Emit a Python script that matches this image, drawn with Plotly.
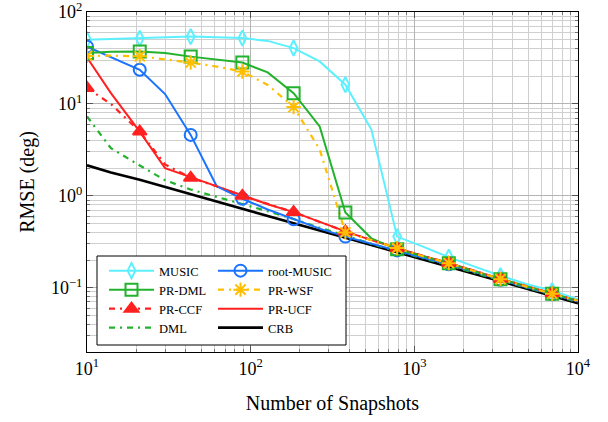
import plotly.graph_objects as go

snapshots = [10, 14, 21, 30, 43, 62, 89, 127, 183, 264, 379, 546, 785, 1129, 1624, 2336, 3360, 4833, 6952, 10000]

music = [50, 51, 51.5, 52.7, 54, 53, 52, 48.5, 40.5, 29, 16.2, 5.3, 0.36, 0.28, 0.215, 0.17, 0.135, 0.11, 0.093, 0.075]
root_music = [42, 32.5, 23.5, 12.8, 4.6, 1.27, 0.93, 0.71, 0.555, 0.44, 0.36, 0.30, 0.255, 0.212, 0.18, 0.148, 0.122, 0.101, 0.085, 0.071]
pr_dml = [35.7, 37, 37.1, 35.7, 32.7, 30.5, 28.2, 22, 13.1, 5.7, 0.66, 0.345, 0.262, 0.22, 0.185, 0.15, 0.124, 0.103, 0.086, 0.072]
pr_wsf = [33.3, 33.5, 33, 30.7, 28.2, 25.5, 22.5, 16.1, 9.25, 3.2, 0.40, 0.33, 0.27, 0.22, 0.185, 0.15, 0.124, 0.103, 0.086, 0.072]
pr_ccf = [14.9, 10, 5.0, 2.2, 1.57, 1.27, 1.0, 0.81, 0.665, 0.52, 0.41, 0.33, 0.27, 0.222, 0.186, 0.151, 0.125, 0.104, 0.087, 0.072]
pr_ucf = [32, 13.1, 5.0, 2.0, 1.6, 1.27, 1.0, 0.81, 0.665, 0.52, 0.41, 0.33, 0.27, 0.222, 0.186, 0.151, 0.125, 0.104, 0.087, 0.072]
dml = [7.3, 3.3, 2.14, 1.48, 1.17, 0.98, 0.81, 0.68, 0.56, 0.45, 0.37, 0.30, 0.25, 0.21, 0.175, 0.145, 0.12, 0.10, 0.084, 0.07]
crb = [2.15, 1.793, 1.496, 1.247, 1.040, 0.868, 0.724, 0.604, 0.503, 0.420, 0.350, 0.292, 0.244, 0.203, 0.169, 0.141, 0.118, 0.098, 0.082, 0.068]

x_tickvals = [10, 100, 1000, 10000]
x_ticktext = ["10<sup>1</sup>", "10<sup>2</sup>", "10<sup>3</sup>", "10<sup>4</sup>"]
y_tickvals = [0.1, 1, 10, 100]
y_ticktext = ["10<sup>\u22121</sup>", "10<sup>0</sup>", "10<sup>1</sup>", "10<sup>2</sup>"]

C_MUSIC = "#5cf0ff"
C_ROOT = "#1a73ff"
C_GREEN = "#22b22c"
C_YEL = "#ffbf00"
C_RED = "#ff2020"
C_BLK = "#000000"

FONT = "Liberation Serif"
DASHDOT = "6px,5px,2px,5px"

# name, data, color, dash, width, symbol, msize, legend row, legend column
series = [
    ("MUSIC", music, C_MUSIC, "solid", 2, "diamond-tall-open", 11, 0, 0),
    ("root-MUSIC", root_music, C_ROOT, "solid", 2, "circle-open", 12, 0, 1),
    ("PR-DML", pr_dml, C_GREEN, "solid", 2, "square-open", 12, 1, 0),
    ("PR-WSF", pr_wsf, C_YEL, DASHDOT, 2.2, "asterisk-open", 12, 1, 1),
    ("PR-CCF", pr_ccf, C_RED, DASHDOT, 2.2, "triangle-up", 12, 2, 0),
    ("PR-UCF", pr_ucf, C_RED, "solid", 2, None, 0, 2, 1),
    ("DML", dml, C_GREEN, DASHDOT, 2.2, None, 0, 3, 0),
    ("CRB", crb, C_BLK, "solid", 2.6, None, 0, 3, 1),
]

W, H = 608, 422
L, R, T, B = 87, 30, 12, 70
pw, ph = W - L - R, H - T - B

def px2paper_x(px):
    return (px - L) / pw

def px2paper_y(py):
    return 1 - (py - T) / ph

fig = go.Figure()

line_order = ["CRB", "DML", "PR-UCF", "MUSIC", "root-MUSIC", "PR-DML", "PR-CCF", "PR-WSF"]
lookup = {s[0]: s for s in series}
for nm in line_order:
    name, data, col, dash, w, sym, ms, row, colm = lookup[nm]
    fig.add_trace(go.Scatter(x=snapshots, y=data, mode="lines",
                             line=dict(color=col, width=w, dash=dash),
                             showlegend=False, hoverinfo="skip"))
for nm in ["MUSIC", "root-MUSIC", "PR-DML", "PR-CCF", "PR-WSF"]:
    name, data, col, dash, w, sym, ms, row, colm = lookup[nm]
    mk = dict(symbol=sym, size=ms, color=col, line=dict(color=col, width=2))
    fig.add_trace(go.Scatter(x=snapshots[::2], y=data[::2], mode="markers", marker=mk,
                             showlegend=False, hoverinfo="skip"))

row_y = [271, 290, 309, 328]
col_x = [104, 213]
legends = {}
for i, (name, data, col, dash, w, sym, ms, row, colm) in enumerate(series):
    lg = "legend" if i == 0 else "legend%d" % (i + 1)
    mode = "lines+markers" if sym else "lines"
    kw = {}
    if sym:
        kw["marker"] = dict(symbol=sym, size=ms, color=col, line=dict(color=col, width=2))
    fig.add_trace(go.Scatter(x=[None], y=[None], mode=mode, name=name,
                             line=dict(color=col, width=w, dash=dash),
                             legend=lg, **kw))
    legends[lg] = dict(x=px2paper_x(col_x[colm]), y=px2paper_y(row_y[row]),
                       xanchor="left", yanchor="middle",
                       bgcolor="rgba(0,0,0,0)", borderwidth=0,
                       font=dict(family=FONT, size=12.5, color="black"),
                       itemwidth=45, tracegroupgap=0, itemclick=False, itemdoubleclick=False)

axis_common = dict(
    type="log", showline=True, linecolor="black", linewidth=1.2, mirror="allticks",
    ticks="inside", ticklen=6, tickcolor="#555555", tickwidth=1,
    showgrid=True, gridcolor="#b4b4b4", gridwidth=1, automargin=False,
    zeroline=False, ticklabeloverflow="allow",
    tickfont=dict(family=FONT, size=18, color="black"),
    minor=dict(dtick="D1", ticks="inside", ticklen=3, tickcolor="#777777",
               showgrid=True, gridcolor="#cfcfcf", gridwidth=1),
)

fig.update_xaxes(range=[1, 4], tickmode="array", tickvals=x_tickvals, ticktext=x_ticktext, **axis_common,
                 title=dict(text="Number of Snapshots", font=dict(family=FONT, size=20, color="black"), standoff=18))
fig.update_yaxes(range=[-1.699, 2], tickmode="array", tickvals=y_tickvals, ticktext=y_ticktext, **axis_common,
                 title=dict(text="RMSE (deg)", font=dict(family=FONT, size=20, color="black"), standoff=10))

fig.update_layout(
    width=W, height=H, margin=dict(l=L, r=R, t=T, b=B),
    paper_bgcolor="white", plot_bgcolor="white",
    font=dict(family=FONT, color="black"),
    shapes=[dict(type="rect", xref="paper", yref="paper",
                 x0=px2paper_x(97), x1=px2paper_x(346), y0=px2paper_y(345), y1=px2paper_y(256),
                 line=dict(color="black", width=1), fillcolor="white", layer="above")],
    **legends,
)

fig.write_html("out.html", config={"displayModeBar": False},
               post_script="document.body.style.margin='0px';")
